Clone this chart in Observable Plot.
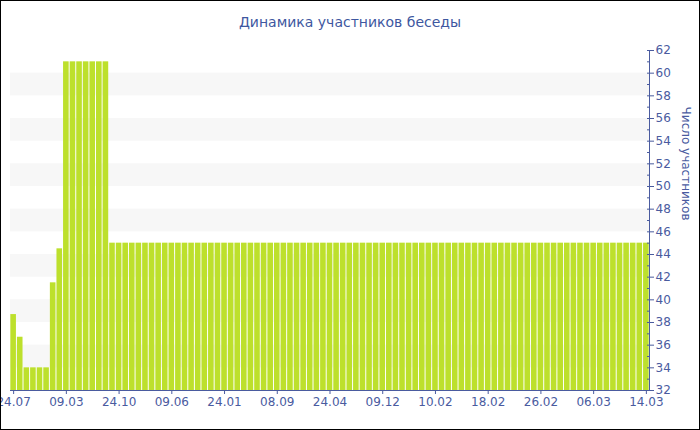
<!DOCTYPE html>
<html>
<head>
<meta charset="utf-8">
<script src="https://cdn.jsdelivr.net/npm/d3@7"></script>
<script src="https://cdn.jsdelivr.net/npm/@observablehq/plot@0.6"></script>
<style>
  html, body { margin: 0; padding: 0; background: #fff; }
  #box { width: 700px; height: 430px; box-sizing: border-box; border: 1px solid #000; background: #fff; overflow: hidden; }
  #title { height: 39px; line-height: 43px; text-align: center; font-family: "DejaVu Sans", sans-serif; font-size: 14px; color: #3e57a0; }
</style>
</head>
<body>
<div id="box">
  <div id="title">Динамика участников беседы</div>
  <div id="chart"></div>
</div>
<script>
const values = [
  38.7, 36.7, 34, 34, 34, 34, 41.5, 44.5,
  61, 61, 61, 61, 61, 61, 61,
  45, 45, 45, 45, 45, 45, 45, 45, 45, 45,
  45, 45, 45, 45, 45, 45, 45, 45, 45, 45,
  45, 45, 45, 45, 45, 45, 45, 45, 45, 45,
  45, 45, 45, 45, 45, 45, 45, 45, 45, 45,
  45, 45, 45, 45, 45, 45, 45, 45, 45, 45,
  45, 45, 45, 45, 45, 45, 45, 45, 45, 45,
  45, 45, 45, 45, 45, 45, 45, 45, 45, 45,
  45, 45, 45, 45, 45, 45, 45, 45, 45, 45,
  45, 45
];
const tickLabels = ["24.07", "09.03", "24.10", "09.06", "24.01", "08.09", "24.04", "09.12", "10.02", "18.02", "26.02", "06.03", "14.03"];
const tickStep = 8;
const bandStarts = [34, 38, 42, 46, 50, 54, 58];
const yLabel = "Число участников";

const axisColor = "#4a5b9f";
const data = values.map((v, i) => ({i, v}));
const tickIdx = tickLabels.map((_, k) => k * tickStep);

const chart = Plot.plot({
  width: 698,
  height: 389,
  marginLeft: 9,
  marginRight: 50,
  marginTop: 10,
  marginBottom: 39,
  style: {fontFamily: "DejaVu Sans, sans-serif", fontSize: "11px", color: axisColor, background: "white", overflow: "visible"},
  x: {type: "band", domain: d3.range(values.length), paddingInner: 0.15, paddingOuter: 0.05},
  y: {domain: [32, 62]},
  marks: [
    Plot.rect(bandStarts, {y1: d => d, y2: d => d + 2, fill: "#f7f7f7"}),
    Plot.barY(data, {x: "i", y1: 32, y2: "v", fill: "#bde02c"}),
    Plot.ruleY([32], {stroke: axisColor}),
    Plot.frame({anchor: "right", stroke: axisColor}),
    Plot.axisY({anchor: "right", ticks: d3.range(32, 63, 1), tickSize: -3, tickFormat: () => "", label: null, stroke: axisColor}),
    Plot.axisY({anchor: "right", ticks: d3.range(32, 63, 2), tickSize: 4, tickPadding: 2, label: null, stroke: axisColor, fill: axisColor, fontSize: 12}),
    Plot.axisX({ticks: tickIdx, tickFormat: i => tickLabels[i / tickStep], tickSize: 4, tickPadding: 3, label: null, stroke: axisColor, fill: axisColor, fontSize: 12}),
    Plot.text([yLabel], {frameAnchor: "right", dx: 36, rotate: 90, fill: axisColor, fontSize: 12})
  ]
});
document.getElementById("chart").appendChild(chart);
</script>
</body>
</html>
